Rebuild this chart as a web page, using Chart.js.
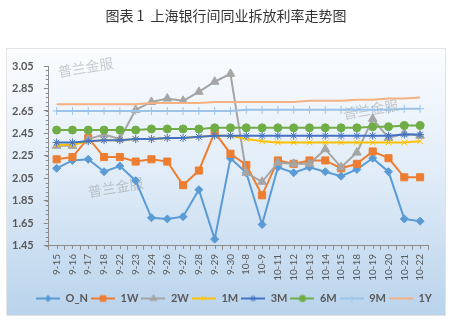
<!DOCTYPE html>
<html>
<head>
<meta charset="utf-8">
<script src="https://cdn.jsdelivr.net/npm/chart.js@4/dist/chart.umd.min.js"></script>
<style>
  html, body { margin: 0; padding: 0; background: #fff; }
  #wrap { width: 453px; height: 323px; }
</style>
</head>
<body>
<div id="wrap"><canvas id="shibor-chart" width="453" height="323"></canvas></div>
<script>
const chartTitle = '图表 1  上海银行间同业拆放利率走势图';

const dates = ['9-15', '9-16', '9-17', '9-18', '9-22', '9-23', '9-24', '9-26', '9-27', '9-28', '9-29', '9-30',
  '10-8', '10-9', '10-11', '10-12', '10-13', '10-14', '10-15', '10-18', '10-19', '10-20', '10-21', '10-22'];

const rateON = [2.14, 2.21, 2.22, 2.11, 2.16, 2.03, 1.70, 1.69, 1.71, 1.95, 1.51, 2.23,
  2.10, 1.64, 2.15, 2.10, 2.15, 2.11, 2.07, 2.13, 2.23, 2.11, 1.69, 1.67];
const rate1W = [2.22, 2.24, 2.41, 2.24, 2.24, 2.20, 2.22, 2.20, 1.99, 2.12, 2.46, 2.27,
  2.17, 1.90, 2.21, 2.18, 2.21, 2.21, 2.14, 2.18, 2.29, 2.23, 2.06, 2.06];
const rate2W = [2.34, 2.34, 2.40, 2.44, 2.40, 2.66, 2.73, 2.76, 2.74, 2.82, 2.91, 2.98,
  2.10, 2.02, 2.19, 2.18, 2.18, 2.31, 2.15, 2.28, 2.58, 2.41, 2.45, 2.43];
const rate1M = [2.35, 2.35, 2.38, 2.39, 2.39, 2.40, 2.40, 2.41, 2.41, 2.42, 2.43, 2.43,
  2.40, 2.38, 2.37, 2.37, 2.37, 2.37, 2.37, 2.37, 2.37, 2.37, 2.37, 2.38];
const rate3M = [2.37, 2.37, 2.38, 2.39, 2.39, 2.40, 2.40, 2.41, 2.41, 2.42, 2.43, 2.43,
  2.43, 2.43, 2.43, 2.43, 2.43, 2.43, 2.43, 2.43, 2.43, 2.43, 2.44, 2.44];
const rate6M = [2.48, 2.48, 2.48, 2.48, 2.48, 2.48, 2.49, 2.49, 2.49, 2.49, 2.50, 2.50,
  2.50, 2.50, 2.50, 2.50, 2.50, 2.50, 2.50, 2.50, 2.51, 2.51, 2.52, 2.52];
const rate9M = [2.65, 2.65, 2.65, 2.65, 2.65, 2.65, 2.65, 2.65, 2.65, 2.65, 2.65, 2.65,
  2.66, 2.66, 2.66, 2.66, 2.66, 2.66, 2.66, 2.66, 2.66, 2.66, 2.67, 2.67];
const rate1Y = [2.71, 2.71, 2.71, 2.71, 2.71, 2.71, 2.72, 2.72, 2.72, 2.72, 2.73, 2.73,
  2.73, 2.73, 2.73, 2.73, 2.74, 2.74, 2.74, 2.75, 2.75, 2.76, 2.76, 2.77];

const yTicks = [1.45, 1.65, 1.85, 2.05, 2.25, 2.45, 2.65, 2.85, 3.05];

// name, values, colour, marker, marker radius
const seriesList = [
  ['O_N', rateON, '#5b9bd5', 'rectRot', 4],
  ['1W', rate1W, '#ed7d31', 'rect', 5],
  ['2W', rate2W, '#a5a5a5', 'triangle', 5],
  ['1M', rate1M, '#ffc000', 'crossRot', 4],
  ['3M', rate3M, '#4472c4', 'star', 4],
  ['6M', rate6M, '#70ad47', 'circle', 4],
  ['9M', rate9M, '#9dc3e6', 'cross', 4],
  ['1Y', rate1Y, '#f4b183', false, 0],
];

const axisGray = '#8c8c8c';
const textGray = '#595959';

// small line+marker picture for each legend entry
function legendSwatch(color, style, radius) {
  const c = document.createElement('canvas');
  c.width = 24;
  c.height = 12;
  const ctx = c.getContext('2d');
  ctx.strokeStyle = color;
  ctx.fillStyle = color;
  ctx.lineWidth = 2;
  ctx.beginPath();
  ctx.moveTo(0, 6);
  ctx.lineTo(24, 6);
  ctx.stroke();
  if (style && Chart.helpers && Chart.helpers.drawPoint) {
    ctx.lineWidth = 1;
    Chart.helpers.drawPoint(ctx, { pointStyle: style, radius: radius * 0.8, rotation: 0, borderWidth: 1 }, 12, 6);
  }
  return c;
}

// gradient panel behind the chart, heading above it, watermark
const panelPlugin = {
  id: 'panel',
  beforeDraw(chart) {
    const ctx = chart.ctx;
    ctx.save();
    ctx.fillStyle = '#ffffff';
    ctx.fillRect(0, 0, chart.width, chart.height);
    const g = ctx.createLinearGradient(0, 48, 0, 316);
    g.addColorStop(0, '#fbfdff');
    g.addColorStop(0.45, '#e2edf8');
    g.addColorStop(1, '#b9d3ec');
    ctx.fillStyle = g;
    ctx.fillRect(6, 48, 440, 268);
    ctx.strokeStyle = '#e3e3e3';
    ctx.lineWidth = 1;
    ctx.strokeRect(6.5, 48.5, 439, 267);

    ctx.fillStyle = '#333333';
    ctx.font = '14px "Noto Sans CJK SC"';
    ctx.textAlign = 'center';
    ctx.textBaseline = 'middle';
    ctx.fillText(chartTitle, 226, 16);
    ctx.restore();
  },
  beforeDatasetsDraw(chart) {
    const ctx = chart.ctx;
    ctx.save();
    ctx.fillStyle = 'rgba(140,140,140,0.45)';
    ctx.font = '14px "Noto Sans CJK SC"';
    [[58, 72], [88, 192], [343, 114]].forEach(([x, y]) => {
      ctx.save();
      ctx.translate(x, y);
      ctx.rotate(-0.17);
      ctx.fillText('普兰金服', 0, 0);
      ctx.restore();
    });
    ctx.restore();
  }
};

// minor tick marks along both axes
const minorTicks = {
  id: 'minorTicks',
  afterDraw(chart) {
    const ctx = chart.ctx;
    const x = chart.scales.x;
    const y = chart.scales.y;
    ctx.save();
    ctx.strokeStyle = axisGray;
    ctx.lineWidth = 1;
    ctx.beginPath();
    for (let v = 1.45; v <= 3.0501; v += 0.04) {
      const py = Math.round(y.getPixelForValue(v)) + 0.5;
      ctx.moveTo(x.left - 3, py);
      ctx.lineTo(x.left, py);
    }
    dates.forEach((d, i) => {
      const px = Math.round(x.getPixelForValue(i)) + 0.5;
      ctx.moveTo(px, y.bottom);
      ctx.lineTo(px, y.bottom + 3);
    });
    ctx.stroke();
    ctx.restore();
  }
};

const datasets = seriesList.map(([name, values, color, style, radius], i) => ({
  label: name,
  data: values,
  borderColor: color,
  backgroundColor: color,
  borderWidth: 2,
  pointStyle: style,
  pointRadius: radius,
  pointBorderWidth: 1,
  tension: 0,
  order: seriesList.length - i
}));

new Chart(document.getElementById('shibor-chart'), {
  type: 'line',
  data: { labels: dates, datasets },
  options: {
    responsive: false,
    animation: false,
    layout: { padding: { left: 2, right: 18, top: 66, bottom: 9 } },
    plugins: {
      title: { display: false },
      legend: {
        position: 'bottom',
        align: 'end',
        title: { display: true, text: ' ', font: { size: 1 }, padding: { top: 2, bottom: 2 } },
        labels: {
          usePointStyle: true,
          pointStyleWidth: 24,
          padding: 3,
          color: textGray,
          font: { family: 'Lato', size: 11, weight: 'bold' },
          generateLabels: () => seriesList.map(([name, , color, style, radius], i) => ({
            text: name,
            pointStyle: legendSwatch(color, style, radius),
            fillStyle: color,
            strokeStyle: color,
            lineWidth: 0,
            datasetIndex: i,
            fontColor: textGray
          }))
        }
      },
      tooltip: { enabled: false }
    },
    scales: {
      x: {
        offset: true,
        afterFit: scale => { scale.paddingRight = 25; },
        grid: { offset: true, drawOnChartArea: false, tickLength: 4, color: axisGray },
        border: { color: axisGray },
        ticks: {
          minRotation: 90,
          maxRotation: 90,
          autoSkip: false,
          padding: 4,
          color: textGray,
          font: { family: 'Lato', size: 10 }
        }
      },
      y: {
        min: 1.45,
        max: 3.05,
        afterBuildTicks: scale => { scale.ticks = yTicks.map(v => ({ value: v })); },
        grid: { drawOnChartArea: false, tickLength: 5, color: axisGray },
        border: { color: axisGray },
        ticks: {
          padding: 10,
          color: textGray,
          font: { family: 'Lato', size: 11, weight: 'bold' },
          callback: v => Number(v).toFixed(2)
        }
      }
    }
  },
  plugins: [panelPlugin, minorTicks]
});
</script>
</body>
</html>
